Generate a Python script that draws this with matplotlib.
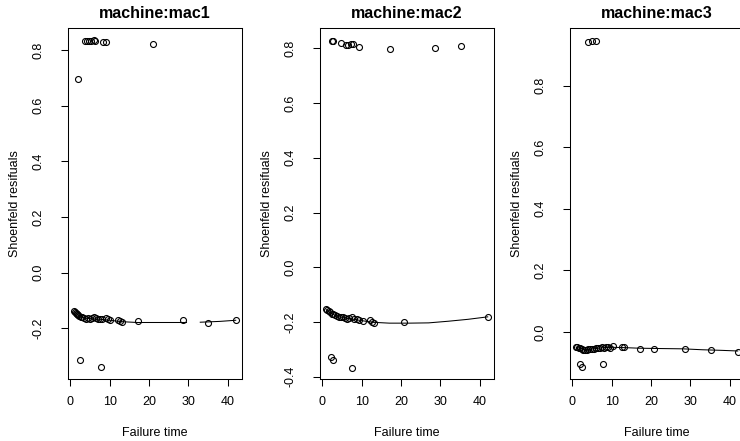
import numpy as np
import matplotlib
matplotlib.use("Agg")
import matplotlib.pyplot as plt

plt.rcParams.update({"font.family": ["Liberation Sans", "DejaVu Sans"], "font.size": 9})

titles = ["machine:mac1", "machine:mac2", "machine:mac3"]
xlabel = "Failure time"
ylabel = "Shoenfeld resifuals"

# --- mac1 residuals ---
t1 = [1.0, 1.2, 1.4, 1.6, 1.8, 2.0, 2.3, 2.6, 3.0, 3.5, 4.0, 4.5, 5.0, 5.5, 6.0, 6.5,
      7.0, 7.5, 8.0, 9.0, 9.5, 10.0, 12.0, 12.5, 13.0, 17.2, 28.5, 35.0, 42.0,
      1.9, 3.6, 4.2, 4.8, 5.3, 5.9, 6.3, 8.4, 9.0, 20.9, 2.5, 7.7]
r1 = [-0.138, -0.142, -0.145, -0.148, -0.150, -0.153, -0.156, -0.158, -0.160, -0.163,
      -0.166, -0.164, -0.165, -0.162, -0.160, -0.163, -0.165, -0.166, -0.168, -0.163,
      -0.168, -0.170, -0.170, -0.173, -0.178, -0.174, -0.170, -0.180, -0.170,
      0.697, 0.834, 0.832, 0.831, 0.833, 0.835, 0.832, 0.828, 0.830, 0.822, -0.314, -0.340]
# smooth fit (the reference line has a break around t=30)
s1x = [1.0, 2.0, 3.0, 4.0, 6.0, 8.0, 10.0, 13.0, 17.0, 25.0, 29.5, 31.0, 33.0, 38.0, 42.0]
s1y = [-0.140, -0.152, -0.160, -0.164, -0.166, -0.168, -0.171, -0.176, -0.179, -0.179,
       -0.179, np.nan, -0.178, -0.175, -0.171]

# --- mac2 residuals ---
t2 = [1.0, 1.3, 1.6, 2.0, 2.4, 2.8, 3.3, 3.8, 4.3, 4.8, 5.3, 5.8, 6.3, 6.8, 7.5, 8.0,
      8.8, 9.3, 10.2, 12.0, 12.5, 13.0, 20.7, 42.0,
      2.5, 2.8, 4.8, 5.9, 6.4, 7.2, 7.7, 9.3, 17.3, 28.6, 35.1, 2.1, 2.8, 7.6]
r2 = [-0.154, -0.157, -0.161, -0.165, -0.169, -0.172, -0.175, -0.178, -0.180, -0.182,
      -0.183, -0.185, -0.188, -0.186, -0.180, -0.188, -0.190, -0.192, -0.196, -0.194,
      -0.198, -0.202, -0.198, -0.181,
      0.828, 0.825, 0.820, 0.813, 0.811, 0.814, 0.817, 0.806, 0.797, 0.800, 0.810,
      -0.327, -0.337, -0.366]
s2x = [1.0, 2.0, 3.0, 4.0, 6.0, 8.0, 10.0, 13.0, 17.0, 22.0, 27.0, 32.0, 37.0, 42.0]
s2y = [-0.155, -0.166, -0.174, -0.180, -0.186, -0.190, -0.195, -0.201, -0.204, -0.204,
       -0.203, -0.197, -0.190, -0.181]

# --- mac3 residuals ---
t3 = [1.0, 1.3, 1.6, 2.0, 2.4, 2.8, 3.2, 3.6, 4.0, 4.5, 5.0, 5.5, 6.0, 6.5, 7.0, 7.5,
      8.0, 8.5, 9.0, 9.5, 10.3, 12.5, 13.0, 17.2, 20.8, 28.7, 35.1, 42.0,
      4.0, 5.0, 6.0, 1.9, 2.5, 7.7]
r3 = [-0.050, -0.050, -0.051, -0.052, -0.055, -0.058, -0.060, -0.058, -0.057, -0.055,
      -0.056, -0.054, -0.052, -0.052, -0.051, -0.050, -0.051, -0.050, -0.050, -0.052,
      -0.046, -0.050, -0.050, -0.055, -0.055, -0.054, -0.058, -0.064,
      0.943, 0.945, 0.945, -0.105, -0.113, -0.103]
s3x = [1.0, 2.0, 3.0, 4.0, 6.0, 8.0, 10.0, 13.0, 17.0, 22.0, 28.0, 33.0, 38.0, 42.0]
s3y = [-0.050, -0.053, -0.058, -0.057, -0.054, -0.051, -0.050, -0.051, -0.053, -0.054,
       -0.055, -0.058, -0.060, -0.062]

times = [t1, t2, t3]
resid = [r1, r2, r3]
smooth_x = [s1x, s2x, s3x]
smooth_y = [s1y, s2y, s3y]
ylims = [(-0.382, 0.879), (-0.408, 0.874), (-0.153, 0.987)]
yticks = [np.arange(-0.2, 0.81, 0.2), np.arange(-0.4, 0.81, 0.2), np.arange(0.0, 0.81, 0.2)]

fig = plt.figure(figsize=(7.4, 4.41), dpi=100)
lefts = [68, 320, 570]
for i in range(3):
    ax = fig.add_axes([lefts[i] / 740, 1 - 379 / 441, 174 / 740, 351 / 441])
    ax.plot(times[i], resid[i], "o", mfc="none", mec="black", ms=4.3, mew=0.8)
    ax.plot(smooth_x[i], smooth_y[i], color="black", lw=0.75)
    ax.set_xlim(-0.6, 43.6)
    ax.set_ylim(*ylims[i])
    ax.set_xticks([0, 10, 20, 30, 40])
    ax.set_yticks(yticks[i])
    ax.set_yticklabels([f"{v:.1f}" for v in yticks[i]])
    ax.tick_params(direction="out", length=5, width=0.75, colors="black")
    ax.tick_params(axis="x", pad=7)
    ax.tick_params(axis="y", pad=12, labelrotation=90)
    for lab in ax.get_yticklabels():
        lab.set_va("center")
    for s in ax.spines.values():
        s.set_linewidth(0.75)
    ax.set_title(titles[i], fontsize=11.5, fontweight="bold", pad=7)
    ax.set_xlabel(xlabel)
    ax.set_ylabel(ylabel)
    ax.xaxis.set_label_coords(0.5, -0.137)
    ax.yaxis.set_label_coords(-0.27, 0.5)

fig.savefig("out.png", dpi=100)
